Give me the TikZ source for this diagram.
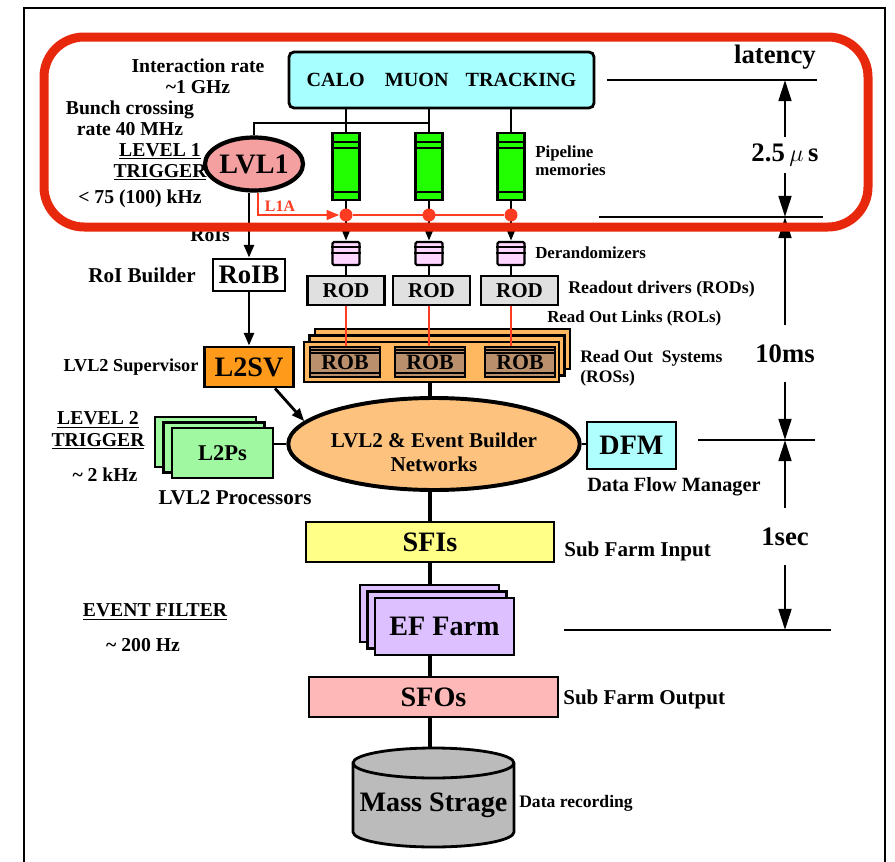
\documentclass[tikz,border=0pt]{standalone}
\usepackage{fontspec}
\setmainfont{Liberation Serif}
\usepackage{tikz}
\usetikzlibrary{arrows.meta,calc,positioning,shapes.geometric}
\pgfdeclarelayer{bg}
\pgfsetlayers{bg,main}

\definecolor{trigred}{RGB}{232,40,12}
\definecolor{l1ared}{RGB}{255,59,34}
\definecolor{detcyan}{RGB}{168,255,255}
\definecolor{pipegreen}{RGB}{34,255,0}
\definecolor{lvlpink}{RGB}{244,160,160}
\definecolor{derpink}{RGB}{255,214,255}
\definecolor{rodgray}{RGB}{224,224,224}
\definecolor{rosorange}{RGB}{255,184,96}
\definecolor{robbrown}{RGB}{186,144,108}
\definecolor{evborange}{RGB}{252,194,126}
\definecolor{svorange}{RGB}{255,154,26}
\definecolor{l2green}{RGB}{160,248,160}
\definecolor{dfmcyan}{RGB}{176,255,255}
\definecolor{sfiyellow}{RGB}{255,255,136}
\definecolor{efpurple}{RGB}{220,192,255}
\definecolor{sfopink}{RGB}{255,184,184}
\definecolor{massgray}{RGB}{187,187,187}

\def\pu{0.025cm}
\newcommand\fsz[2]{\fontsize{#1}{#2}\selectfont\bfseries\boldmath}

\begin{document}
\begin{tikzpicture}[
			x=0.025cm, y=-0.025cm,
			box/.style={draw, line width=2pt, inner sep=0pt},
			sz/.style 2 args={minimum width=#1*\pu, minimum height=#2*\pu},
			lbl/.style={inner sep=0pt, font=\fsz{14}{15}},
			detbox/.style={box, fill=detcyan, rounded corners=0.125cm, sz={305}{56}, font=\fsz{14.3}{17}},
			pipebox/.style={box, line width=1.6pt, fill=pipegreen, sz={27}{67}},
			derbox/.style={box, line width=1.6pt, fill=derpink, rounded corners=1pt, sz={27}{23}},
			rodbox/.style={box, fill=rodgray, sz={77}{29}, font=\fsz{15}{17}},
			rosbox/.style={box, fill=rosorange, sz={255}{40}},
			robbox/.style={box, line width=1.2pt, fill=robbrown, sz={70}{30}, font=\fsz{15.5}{17}},
			lvlell/.style={ellipse, draw, line width=3pt, fill=lvlpink, inner sep=0pt, sz={91}{53}, font=\fsz{20}{22}},
			roibbox/.style={box, fill=white, sz={72}{32}, font=\fsz{19}{21}},
			svbox/.style={box, fill=svorange, sz={89}{40}, font=\fsz{20}{22}},
			evbell/.style={ellipse, draw, line width=2.8pt, fill=evborange, inner sep=0pt, sz={256}{92}, align=center, font=\fsz{15}{17.5}},
			l2pbox/.style={box, fill=l2green, sz={101}{50}, font=\fsz{16}{18}},
			dfmbox/.style={box, fill=dfmcyan, sz={89}{47}, font=\fsz{20}{22}},
			sfibox/.style={box, fill=sfiyellow, sz={248}{40}, font=\fsz{20}{22}},
			efbox/.style={box, fill=efpurple, sz={139}{57}, font=\fsz{20}{22}},
			sfobox/.style={box, fill=sfopink, sz={249}{40}, font=\fsz{20}{22}},
			dot/.style={circle, fill=l1ared, inner sep=0pt, minimum size=13*\pu},
			conn/.style={line width=2pt},
			arr/.style={conn, -{Triangle[length=9pt,width=7pt]}},
			inline/.style={line width=1pt},
			l1a/.style={draw=l1ared, line width=1.4pt},
			thinline/.style={line width=0.8pt},
			latlbl/.style={inner sep=0pt, font=\fsz{19}{21}},
			latarr/.style={line width=2pt, -{Triangle[length=15pt,width=9pt]}}
			]
			\useasboundingbox (0,0) rectangle (895,862);

			% frame
			\draw[line width=1.4pt] (24,870) -- (24,8) -- (885,8) -- (885,870);

			% level 1
			\node[detbox] (det) at (441.5,80) {CALO\hspace{1em}MUON\hspace{0.85em}TRACKING};
			\node[lvlell] (lvl1) at (254,164) {LVL1};
			\coordinate (tap) at (429,123);
			\draw[conn] (lvl1.north) |- (tap);

			\foreach \x [count=\i] in {346,429,511} {
				\node[pipebox] (pipe\i) at (\x,166.5) {};
				\draw[inline] ($(pipe\i.north west)+(0,10)$) -- ($(pipe\i.north east)+(0,10)$);
				\draw[inline] ($(pipe\i.north west)+(0,16)$) -- ($(pipe\i.north east)+(0,16)$);
				\draw[inline] ($(pipe\i.south west)+(0,-9)$) -- ($(pipe\i.south east)+(0,-9)$);
				\draw[conn] (pipe\i.north) -- (pipe\i.north |- det.south);
				\node[derbox] (der\i) at (\x,253.5) {};
				\draw[inline] ($(der\i.north west)+(0,6)$) -- ($(der\i.north east)+(0,6)$);
				\draw[inline] ($(der\i.north west)+(0,12)$) -- ($(der\i.north east)+(0,12)$);
				\draw[conn, -{Triangle[length=7pt,width=5pt]}] (pipe\i.south) -- (der\i.north);
				\node[dot] (dot\i) at (\x,215) {};
			}
			\draw[l1a, -{Triangle[length=9pt,width=7pt]}] ($(lvl1.south)+(4,0)$) |- (dot1.west);
			\draw[l1a] (dot1) -- (dot3);
			\node[lbl, font=\fsz{11.3}{13}, text=l1ared] (l1alb) at (280,206) {L1A};

			% readout
			\foreach \x [count=\i] in {346,431.5,519.5} {
				\node[rodbox] (rod\i) at (\x,290.5) {ROD};
				\draw[conn] (der\i.south) -- (der\i.south |- rod\i.north);
			}
			\foreach \k in {2,1}
				\node[rosbox] (ros-\k) at (431.5+\k*5.5,362-\k*6.5) {};
			\node[rosbox] (ros) at (431.5,362) {};
			\foreach \x [count=\i] in {345,430,520} {
				\node[robbox] (rob\i) at (\x,362) {ROB};
				\draw[inline] ($(rob\i.north west)+(0,4)$) -- ($(rob\i.north east)+(0,4)$);
				\draw[inline] ($(rob\i.north west)+(0,7)$) -- ($(rob\i.north east)+(0,7)$);
				\draw[inline] ($(rob\i.south west)+(0,-5)$) -- ($(rob\i.south east)+(0,-5)$);
				\draw[l1a, line width=1.6pt] (rod\i.south -| der\i.south) -- (rob\i.north -| der\i.south);
			}

			% level 2
			\node[roibbox] (roib) at (249,275) {RoIB};
			\node[svbox] (l2sv) at (249,367) {L2SV};
			\node[evbell] (evb) at (434,444) {\rule{0pt}{22pt}LVL2 \& Event Builder\\Networks};
			\foreach \k in {2,1}
				\node[l2pbox] (l2ps-\k) at (222.5-\k*8.5,453-\k*5.5) {};
			\node[l2pbox] (l2ps) at (222.5,453) {L2Ps};
			\node[dfmbox] (dfm) at (631.5,445.5) {DFM};
			\draw[arr] (lvl1.south -| roib.north) -- (roib.north);
			\draw[arr] (roib.south) -- (l2sv.north);
			\draw[arr] ($(l2sv.south)+(26,0)$) -- (evb.170);
			\draw[conn] (l2ps.east |- evb.west) -- (evb.west);
			\draw[conn] (evb.east) -- (dfm.west |- evb.east);

			% event filter
			\node[sfibox] (sfi) at (430,542) {SFIs};
			\foreach \k in {2,1}
				\node[efbox] (ef-\k) at (444.5-\k*7.5,626.5-\k*6.5) {};
			\node[efbox] (ef) at (444.5,626.5) {EF Farm};
			\node[sfobox] (sfo) at (433.5,697) {SFOs};
			\draw[line width=2pt, fill=massgray] (353,763) -- (353,832)
				arc[start angle=180, end angle=360, x radius=80.5*\pu, y radius=15*\pu] -- (514,763)
				arc[start angle=0, end angle=180, x radius=80.5*\pu, y radius=15*\pu] -- cycle;
			\draw[line width=2pt] (353,763) arc[start angle=180, end angle=360, x radius=80.5*\pu, y radius=15*\pu];
			\node[inner sep=0pt, font=\fsz{20}{22}] (mass) at (433.5,805) {Mass Strage};

			\begin{pgfonlayer}{bg}
				\foreach \a/\b in {ros/evb,evb/sfi,sfi/ef,ef/sfo,sfo/mass}
					\draw[line width=2.6pt] (\a.center -| sfi.center) -- (\b.center -| sfi.center);
			\end{pgfonlayer}

			% left labels
			\node[lbl, align=center] (irate) at (198,76.5) {Interaction rate\\\textasciitilde1 GHz};
			\node[lbl, align=center] (bunch) at (130,118) {Bunch crossing\\rate 40 MHz};
			\node[lbl, align=center] (lv1lbl) at (160,162) {\underline{LEVEL 1}\\\underline{TRIGGER}};
			\node[lbl] (rate1) at (140,199) {< 75 (100) kHz};
			\node[lbl, anchor=base] (rois) at (210,241) {RoIs};
			\node[lbl, font=\fsz{15}{17}] (roiblbl) at (142,275) {RoI Builder};
			\node[lbl, font=\fsz{13}{15}] (svlbl) at (131,367) {LVL2 Supervisor};
			\node[lbl, align=center] (lv2lbl) at (98,430.5) {\underline{LEVEL 2}\\\underline{TRIGGER}};
			\node[lbl] (rate2) at (105,475) {\textasciitilde\ 2 kHz};
			\node[lbl, font=\fsz{15}{17}] (l2plbl) at (235,498) {LVL2 Processors};
			\node[lbl] (eflbl) at (155,612) {\underline{EVENT FILTER}};
			\node[lbl] (rate3) at (143,645) {\textasciitilde\ 200 Hz};

			% right labels
			\node[lbl, font=\fsz{12}{12.8}, align=left, anchor=west] (pipelbl) at (535,161) {Pipeline\\memories};
			\node[lbl, font=\fsz{12}{14}, anchor=west] (derlbl) at (535,253) {Derandomizers};
			\node[lbl, font=\fsz{12.7}{14}, anchor=west] (rodlbl) at (568,289) {Readout drivers (RODs)};
			\node[lbl, font=\fsz{12}{14}, anchor=west] (rollbl) at (547,318) {Read Out Links (ROLs)};
			\node[lbl, font=\fsz{12.5}{14.2}, align=left, anchor=west] (roslbl) at (580,368) {Read Out\ \ Systems\\(ROSs)};
			\node[lbl, font=\fsz{14.4}{16}, anchor=west] (dfmlbl) at (587,487) {Data Flow Manager};
			\node[lbl, font=\fsz{15}{17}, anchor=west] (sfilbl) at (564,551) {Sub Farm Input};
			\node[lbl, font=\fsz{15}{17}, anchor=west] (sfolbl) at (563,699) {Sub Farm Output};
			\node[lbl, font=\fsz{12.5}{14}, anchor=west] (datalbl) at (519,803) {Data recording};

			% latency
			\node[latlbl] (latency) at (775,57) {latency};
			\coordinate (m0) at (785,80);
			\coordinate (m1) at (785,217);
			\coordinate (m2) at (785,440);
			\coordinate (m3) at (785,630);
			\draw[thinline] (607,80) -- (817,80);
			\draw[thinline] (599,217) -- (823,217);
			\draw[thinline] (698,440) -- (815,440);
			\draw[thinline] (564,630) -- (831,630);
			\node[latlbl, minimum height=36*\pu] (t25) at (785,155) {2.5\,{\unboldmath$\mu$}\,s};
			\node[latlbl, minimum height=57*\pu] (t10) at (785,353.5) {10ms};
			\node[latlbl, minimum height=57*\pu] (t1) at (785,536.5) {1sec};
			\draw[latarr] (t25.north) -- (m0);
			\draw[latarr] (t25.south) -- (m1);
			\draw[latarr] (t10.north) -- (m1);
			\draw[latarr] (t10.south) -- (m2);
			\draw[latarr] (t1.north) -- (m2);
			\draw[latarr] (t1.south) -- (m3);

			% level 1 latency loop
			\draw[trigred, line width=6.4pt, rounded corners=1cm] (44,37) rectangle (868,227);
\end{tikzpicture}
\end{document}
